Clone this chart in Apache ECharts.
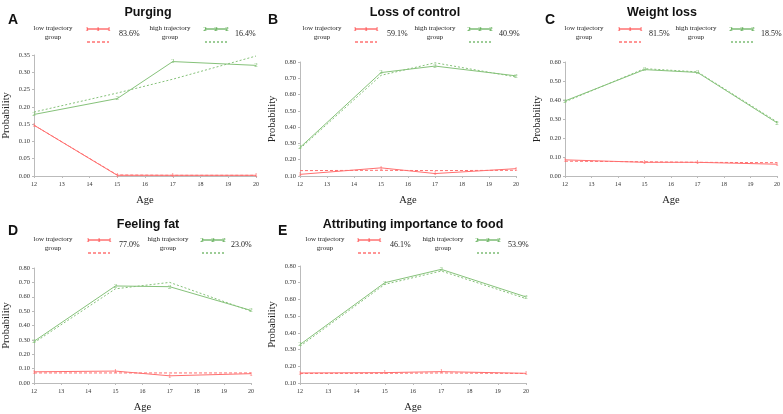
<!DOCTYPE html>
<html><head><meta charset="utf-8">
<script src="https://cdn.jsdelivr.net/npm/echarts@6/dist/echarts.min.js"></script>
<style>html,body{margin:0;padding:0;background:#fff}#c{width:783px;height:414px}</style>
</head><body><div id="c"></div>
<script>
const ages = [12, 15, 17, 20];
const xTicks = [12, 13, 14, 15, 16, 17, 18, 19, 20];
const titles = ['Purging', 'Loss of control', 'Weight loss', 'Feeling fat', 'Attributing importance to food'];
const letters = ['A', 'B', 'C', 'D', 'E'];
const lowPct = ['83.6%', '59.1%', '81.5%', '77.0%', '46.1%'];
const highPct = ['16.4%', '40.9%', '18.5%', '23.0%', '53.9%'];
const yMin = [0, 0.10, 0, 0, 0.10];
const yMax = [0.35, 0.80, 0.60, 0.80, 0.80];
const yStep = [0.05, 0.10, 0.10, 0.10, 0.10];

const purgingLowObs = [0.147, 0.002, 0.002, 0.002];
const purgingLowPred = [0.147, 0.003, 0.002, 0.002];
const purgingHighObs = [0.178, 0.224, 0.331, 0.320];
const purgingHighPred = [0.185, 0.240, 0.280, 0.347];

const lossLowObs = [0.110, 0.150, 0.115, 0.145];
const lossLowPred = [0.133, 0.135, 0.133, 0.135];
const lossHighObs = [0.275, 0.735, 0.775, 0.715];
const lossHighPred = [0.268, 0.718, 0.795, 0.708];

const weightLowObs = [0.085, 0.072, 0.072, 0.062];
const weightLowPred = [0.078, 0.075, 0.072, 0.070];
const weightHighObs = [0.395, 0.560, 0.545, 0.280];
const weightHighPred = [0.390, 0.565, 0.548, 0.285];

const fatLowObs = [0.078, 0.083, 0.050, 0.065];
const fatLowPred = [0.070, 0.070, 0.070, 0.070];
const fatHighObs = [0.290, 0.675, 0.670, 0.505];
const fatHighPred = [0.280, 0.655, 0.700, 0.500];

const foodLowObs = [0.160, 0.162, 0.168, 0.158];
const foodLowPred = [0.157, 0.158, 0.160, 0.157];
const foodHighObs = [0.330, 0.700, 0.780, 0.615];
const foodHighPred = [0.320, 0.690, 0.770, 0.605];

const panels = [
  [purgingLowObs, purgingLowPred, purgingHighObs, purgingHighPred],
  [lossLowObs, lossLowPred, lossHighObs, lossHighPred],
  [weightLowObs, weightLowPred, weightHighObs, weightHighPred],
  [fatLowObs, fatLowPred, fatHighObs, fatHighPred],
  [foodLowObs, foodLowPred, foodHighObs, foodHighPred]
];

// layout (pixels)
const grids = [
  {left: 29, top: 55, width: 227, height: 121},
  {left: 300, top: 62, width: 216, height: 114},
  {left: 565, top: 62, width: 212, height: 114},
  {left: 29, top: 268, width: 222, height: 119},
  {left: 300, top: 266, width: 226, height: 120}
];
const titleCX = [143, 410, 657, 143, 408];
const titleY = [1, 1, 1, 213, 213];
const letterX = [3, 263, 540, 3, 273];
const letterY = [8, 8, 8, 219, 219];
// legend layout: [lowTextCX, lowSymX, lowPctX, highTextCX, highSymX, highPctX, rowY]
const leg = [
  [53, 87, 119, 170, 205, 235, 29],
  [322, 355, 387, 435, 469, 499, 29],
  [584, 619, 649, 696, 731, 761, 29],
  [53, 88, 119, 168, 202, 231, 240],
  [325, 358, 390, 443, 477, 508, 240]
];

const RED = '#ff6f6f', RED_K = '#ff2a2a';
const GREEN = '#86c27a', GREEN_K = '#3a9a2e';
const SERIF = '"Liberation Serif", "DejaVu Serif", serif';
const SANS = '"Liberation Sans", Arial, sans-serif';

const option = {
  backgroundColor: '#fff',
  animation: false,
  title: [], grid: [], xAxis: [], yAxis: [], series: [], graphic: []
};

function fmt(v) { return v.toFixed(2); }

panels.forEach((p, i) => {
  const g = grids[i];
  option.grid.push({left: g.left, top: g.top, width: g.width, height: g.height, containLabel: false});
  option.xAxis.push({
    type: 'value', gridIndex: i, min: 12, max: 20, interval: 1,
    name: 'Age', nameLocation: 'middle', nameGap: 19,
    nameTextStyle: {fontFamily: SERIF, fontSize: 10.5, color: '#222'},
    axisLine: {lineStyle: {color: '#bbb', width: 1}},
    axisTick: {show: true, length: 2, lineStyle: {color: '#bbb'}},
    axisLabel: {fontFamily: SERIF, fontSize: 6, color: '#333', margin: 5,
      customValues: xTicks},
    splitLine: {show: false}
  });
  option.yAxis.push({
    type: 'value', gridIndex: i, min: yMin[i], max: yMax[i], interval: yStep[i],
    name: 'Probability', nameLocation: 'middle', nameGap: 22, nameRotate: 90,
    nameTextStyle: {fontFamily: SERIF, fontSize: 10.5, color: '#222'},
    axisLine: {show: true, lineStyle: {color: '#bbb', width: 1}},
    axisTick: {show: true, length: 2, lineStyle: {color: '#bbb'}},
    axisLabel: {fontFamily: SERIF, fontSize: 6.5, color: '#333', margin: 4, formatter: fmt},
    splitLine: {show: false}
  });
  const mk = (vals) => ages.map((a, k) => [a, vals[k]]);
  const labelFor = (txt, col) => ({show: true, position: 'inside', formatter: txt,
    fontFamily: SERIF, fontSize: 7, color: col});
  option.series.push({type: 'line', xAxisIndex: i, yAxisIndex: i, data: mk(p[0]),
    symbol: 'rect', symbolSize: 0.5, itemStyle: {color: RED},
    lineStyle: {color: RED, width: 1}, label: labelFor('1', RED), z: 3});
  option.series.push({type: 'line', xAxisIndex: i, yAxisIndex: i, data: mk(p[1]),
    showSymbol: false, symbol: 'none', lineStyle: {color: RED, width: 1, type: [3, 2]}, z: 2});
  option.series.push({type: 'line', xAxisIndex: i, yAxisIndex: i, data: mk(p[2]),
    symbol: 'rect', symbolSize: 0.5, itemStyle: {color: GREEN},
    lineStyle: {color: GREEN, width: 1}, label: labelFor('2', GREEN), z: 3});
  option.series.push({type: 'line', xAxisIndex: i, yAxisIndex: i, data: mk(p[3]),
    showSymbol: false, symbol: 'none', lineStyle: {color: GREEN, width: 1, type: [2, 2]}, z: 2});

  option.title.push({text: titles[i], left: titleCX[i], top: titleY[i], textAlign: 'center',
    textStyle: {fontFamily: SANS, fontSize: 12.5, fontWeight: 'bold', color: '#111'}});
  option.title.push({text: letters[i], left: letterX[i], top: letterY[i],
    textStyle: {fontFamily: SANS, fontSize: 14, fontWeight: 'bold', color: '#111'}});

  const L = leg[i];
  const y = L[6];
  const addGroup = (textCX, symX, pctX, label, pct, col, num, dash) => {
    option.graphic.push({type: 'text', x: textCX, y: y - 5,
      style: {text: label, font: '7px ' + SERIF, fill: '#222', align: 'center', verticalAlign: 'top', lineHeight: 9}});
    option.graphic.push({type: 'line', shape: {x1: symX, y1: y, x2: symX + 22, y2: y},
      style: {stroke: col, lineWidth: 1}});
    [0, 11, 22].forEach(dx => {
      option.graphic.push({type: 'text', x: symX + dx, y: y, style: {text: num, font: '7px ' + SERIF,
        fill: col, align: 'center', verticalAlign: 'middle'}});
    });
    option.graphic.push({type: 'line', shape: {x1: symX, y1: y + 13, x2: symX + 22, y2: y + 13},
      style: {stroke: col, lineWidth: 1, lineDash: dash}});
    option.graphic.push({type: 'text', x: pctX, y: y + 5, style: {text: pct, font: '8px ' + SERIF,
      fill: '#222', align: 'left', verticalAlign: 'middle'}});
  };
  addGroup(L[0], L[1], L[2], 'low trajectory\ngroup', lowPct[i], RED_K, '1', [3, 2]);
  addGroup(L[3], L[4], L[5], 'high trajectory\ngroup', highPct[i], GREEN_K, '2', [2, 2]);
});

const chart = echarts.init(document.getElementById('c'), null, {renderer: 'canvas'});
chart.setOption(option);
</script></body></html>
